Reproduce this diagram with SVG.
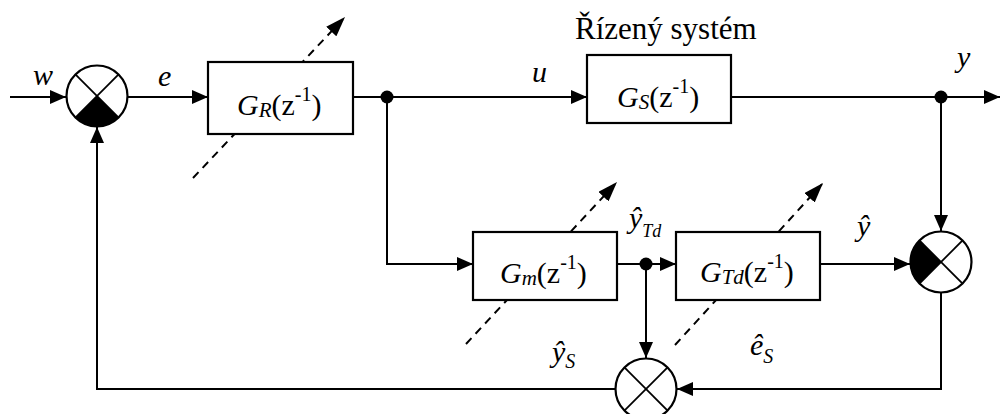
<svg xmlns="http://www.w3.org/2000/svg" width="1002" height="414" viewBox="0 0 1002 414" font-family="'Liberation Serif', 'Times New Roman', Times, 'DejaVu Serif', serif">
<style>
  .ln{fill:none;stroke:#000;stroke-width:2}
  .dash{fill:none;stroke:#000;stroke-width:2;stroke-dasharray:8 6}
  .box{fill:#fff;stroke:#000;stroke-width:2.2}
  .sum{fill:#fff;stroke:#000;stroke-width:2.2}
  .x{stroke:#000;stroke-width:1.8}
  .dot{fill:#000}
  .t{font-family:'Liberation Serif', 'Times New Roman', Times, 'DejaVu Serif', serif;font-size:30px;fill:#000}
  .it{font-style:italic}
</style>
<defs>
  <marker id="arr" markerUnits="userSpaceOnUse" markerWidth="16" markerHeight="14" refX="16" refY="7" orient="auto">
    <path d="M0,0 L16,7 L0,14 z" fill="#000"/>
  </marker>
  <marker id="darr" markerUnits="userSpaceOnUse" markerWidth="20" markerHeight="14" refX="20" refY="7" orient="auto">
    <path d="M0,0 L20,7 L0,14 z" fill="#000"/>
  </marker>
</defs>
<rect width="1002" height="414" fill="#fff"/>

<g id="connectors">
  <path class="ln" d="M10,97 H66" marker-end="url(#arr)"/>
  <path class="ln" d="M127,97 H208" marker-end="url(#arr)"/>
  <path class="ln" d="M353,97 H587" marker-end="url(#arr)"/>
  <path class="ln" d="M731,97 H1000" marker-end="url(#arr)"/>
  <path class="ln" d="M941,97 V231" marker-end="url(#arr)"/>
  <path class="ln" d="M387,97 V264 H473" marker-end="url(#arr)"/>
  <path class="ln" d="M617,264 H676" marker-end="url(#arr)"/>
  <path class="ln" d="M646,264 V358" marker-end="url(#arr)"/>
  <path class="ln" d="M820,264 H910" marker-end="url(#arr)"/>
  <path class="ln" d="M941,292 V389 H677" marker-end="url(#arr)"/>
  <path class="ln" d="M615,389 H97 V127" marker-end="url(#arr)"/>
  <circle class="dot" cx="387" cy="97" r="6.5"/>
  <circle class="dot" cx="941" cy="97" r="6.5"/>
  <circle class="dot" cx="646" cy="264" r="6.5"/>
</g>

<g id="sum1">
  <circle class="sum" cx="97" cy="96" r="30.5"/>
  <path d="M97,96 L118.6,117.6 A30.5,30.5 0 0 1 75.4,117.6 Z" fill="#000"/>
  <line class="x" x1="75.4" y1="74.4" x2="118.6" y2="117.6"/>
  <line class="x" x1="118.6" y1="74.4" x2="75.4" y2="117.6"/>
</g>

<g id="GR">
  <path class="dash" d="M193,178 L345,17" marker-end="url(#darr)"/>
  <rect class="box" x="208" y="62" width="145" height="72"/>
  <text class="t" x="237" y="115"><tspan class="it">G</tspan><tspan class="it" font-size="21" dy="2">R</tspan><tspan dy="-2">(z</tspan><tspan font-size="20" dy="-14">-1</tspan><tspan dy="14">)</tspan></text>
</g>

<g id="GS">
  <text class="t" x="575" y="39" style="font-size:31px">Řízený systém</text>
  <rect class="box" x="587" y="55" width="144" height="68"/>
  <text class="t" x="617" y="107"><tspan class="it">G</tspan><tspan class="it" font-size="21" dy="2">S</tspan><tspan dy="-2">(z</tspan><tspan font-size="20" dy="-14">-1</tspan><tspan dy="14">)</tspan></text>
</g>

<g id="Gm">
  <path class="dash" d="M466,344 L617,182" marker-end="url(#darr)"/>
  <rect class="box" x="473" y="232" width="144" height="68"/>
  <text class="t" x="500" y="283"><tspan class="it">G</tspan><tspan class="it" font-size="21" dy="2">m</tspan><tspan dy="-2">(z</tspan><tspan font-size="20" dy="-14">-1</tspan><tspan dy="14">)</tspan></text>
</g>

<g id="GTd">
  <path class="dash" d="M675,345 L823,183" marker-end="url(#darr)"/>
  <rect class="box" x="676" y="232" width="144" height="68"/>
  <text class="t" x="700" y="282"><tspan class="it">G</tspan><tspan class="it" font-size="21" dy="2">Td</tspan><tspan dy="-2">(z</tspan><tspan font-size="20" dy="-14">-1</tspan><tspan dy="14">)</tspan></text>
</g>

<g id="sum2">
  <circle class="sum" cx="941" cy="262" r="30.5"/>
  <path d="M941,262 L919.4,283.6 A30.5,30.5 0 0 1 919.4,240.4 Z" fill="#000"/>
  <line class="x" x1="919.4" y1="240.4" x2="962.6" y2="283.6"/>
  <line class="x" x1="962.6" y1="240.4" x2="919.4" y2="283.6"/>
</g>

<g id="sum3">
  <circle class="sum" cx="646" cy="389" r="30.5"/>
  <line class="x" x1="624.4" y1="367.4" x2="667.6" y2="410.6"/>
  <line class="x" x1="667.6" y1="367.4" x2="624.4" y2="410.6"/>
</g>

<g id="labels">
  <text class="t it" x="33" y="85">w</text>
  <text class="t it" x="158" y="86">e</text>
  <text class="t it" x="532" y="82">u</text>
  <text class="t it" x="957" y="67">y</text>
  <text class="t it" x="857" y="236">ŷ</text>
  <text class="t it" x="629" y="228">ŷ<tspan font-size="18" dy="9">Td</tspan></text>
  <text class="t it" x="552" y="362">ŷ<tspan font-size="20" dy="6">S</tspan></text>
  <text class="t it" x="750" y="355">ê<tspan font-size="20" dy="8">S</tspan></text>
</g>
</svg>
